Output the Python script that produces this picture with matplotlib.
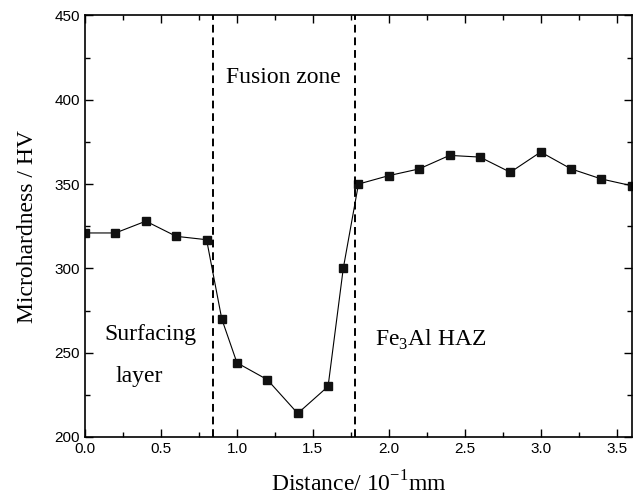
import matplotlib
matplotlib.use("Agg")
import matplotlib.pyplot as plt
from matplotlib.ticker import MultipleLocator

distance = [0.0, 0.2, 0.4, 0.6, 0.8, 0.9, 1.0, 1.2, 1.4, 1.6, 1.7,
            1.8, 2.0, 2.2, 2.4, 2.6, 2.8, 3.0, 3.2, 3.4, 3.6]
hardness = [321, 321, 328, 319, 317, 270, 244, 234, 214, 230, 300,
            350, 355, 359, 367, 366, 357, 369, 359, 353, 349]
boundaries = [0.845, 1.775]

fig = plt.figure(figsize=(6.35, 4.98), dpi=100)
ax = fig.add_axes([0.134, 0.1225, 0.861, 0.8465])

ax.plot(distance, hardness, color='black', linewidth=0.8,
        marker='s', markersize=6.3, markerfacecolor='#111111', markeredgecolor='#111111')

for b in boundaries:
    ax.axvline(b, color='black', linewidth=1.4, linestyle=(0, (4, 2.5)))

ax.set_xlim(0, 3.6)
ax.set_ylim(200, 450)
ax.xaxis.set_major_locator(MultipleLocator(0.5))
ax.xaxis.set_minor_locator(MultipleLocator(0.25))
ax.yaxis.set_major_locator(MultipleLocator(50))
ax.yaxis.set_minor_locator(MultipleLocator(25))
ax.tick_params(which='both', direction='in', top=True, right=True,
               width=1.0, labelsize=11)
ax.tick_params(which='major', length=6)
ax.tick_params(which='minor', length=3.5)
for lab in ax.get_xticklabels() + ax.get_yticklabels():
    lab.set_fontfamily('Liberation Sans')
for s in ax.spines.values():
    s.set_linewidth(1.2)

serif = 'Liberation Serif'
ax.set_xlabel('Distance/ 10$^{\\mathregular{-1}}$mm', fontfamily=serif, fontsize=17, labelpad=11)
ax.set_ylabel('Microhardness / HV', fontfamily=serif, fontsize=17, labelpad=12)

ax.text(0.925, 413, 'Fusion zone', fontfamily=serif, fontsize=17, va='center', ha='left')
ax.text(0.43, 260.5, 'Surfacing', fontfamily=serif, fontsize=17, va='center', ha='center')
ax.text(0.355, 236, 'layer', fontfamily=serif, fontsize=17, va='center', ha='center')
ax.text(1.908, 257.5, 'Fe$_{\\mathregular{3}}$Al HAZ', fontfamily=serif, fontsize=17, va='center', ha='left')

fig.savefig('out.png', dpi=100)
